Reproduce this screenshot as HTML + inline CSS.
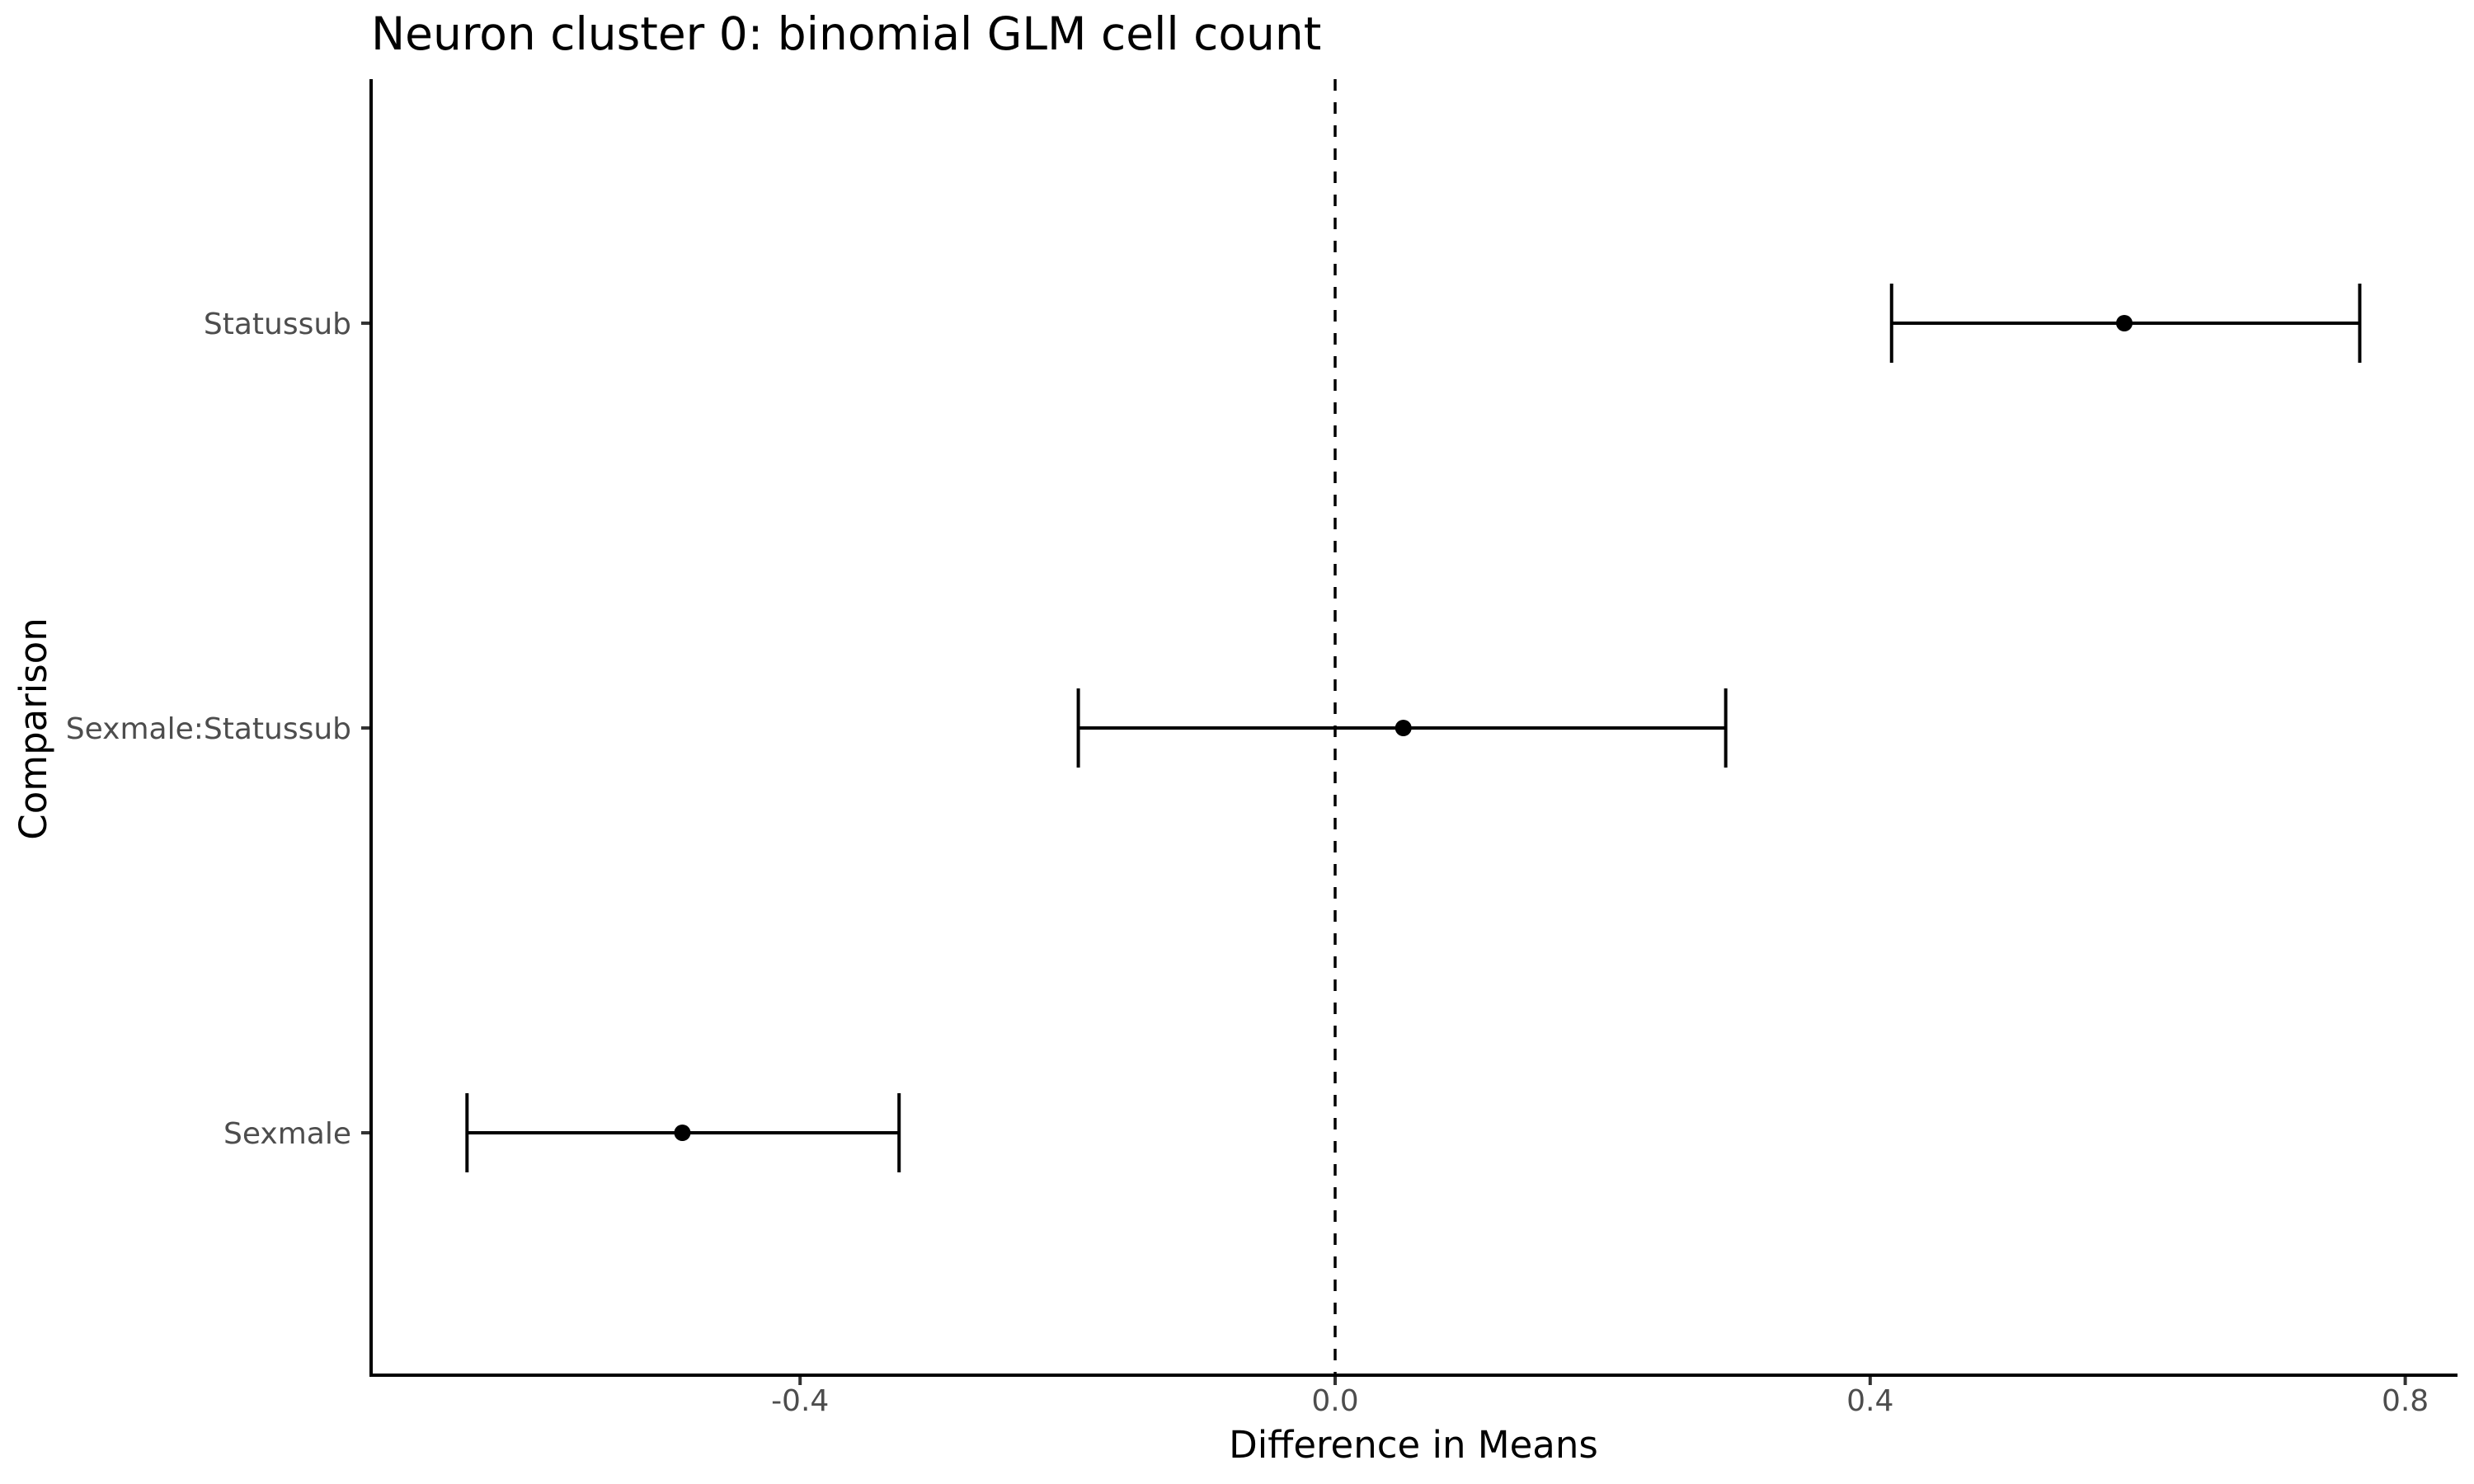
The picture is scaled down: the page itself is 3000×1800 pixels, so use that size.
<!DOCTYPE html>
<html><head><meta charset="utf-8">
<style>
html,body{margin:0;padding:0;background:#fff;}
svg{display:block;font-family:"DejaVu Sans","Liberation Sans",sans-serif;}
</style></head>
<body>
<svg id="chart" width="3000" height="1800" viewBox="0 0 3000 1800">
<text x="450" y="60" font-size="55" fill="#000">Neuron cluster 0: binomial GLM cell count</text>
<g id="plot"></g>
<text x="1714" y="1768" font-size="45" text-anchor="middle" fill="#000">Difference in Means</text>
<text transform="translate(56,884) rotate(-90)" font-size="45" text-anchor="middle" fill="#000">Comparison</text>
</svg>
<script>
const categories = ["Sexmale", "Sexmale:Statussub", "Statussub"];
const means = [-0.488, 0.051, 0.590];
const lows = [-0.649, -0.192, 0.416];
const highs = [-0.326, 0.292, 0.766];
const xTicks = [-0.4, 0.0, 0.4, 0.8];
const xTickLabels = ["-0.4", "0.0", "0.4", "0.8"];

const NS = "http://www.w3.org/2000/svg";
const plot = document.getElementById('plot');
const L = 450, R = 2980, T = 96, B = 1668;
function xs(v){ return 1619 + v * 1622; }
function ys(i){ return 1374 - i * 491; }
function mk(tag, attrs){ const e = document.createElementNS(NS, tag); for (const k in attrs) e.setAttribute(k, attrs[k]); plot.appendChild(e); return e; }

let e;
e = mk('line', {x1: xs(0), x2: xs(0), y1: T, y2: B, stroke: '#000', 'stroke-width': 3.5, 'stroke-dasharray': '14,14'});



categories.forEach((c, i) => {
  const y = ys(i);
  const g = document.createElementNS(NS, 'g');
  
  
  plot.appendChild(g);
  const add = (tag, a) => { const el = document.createElementNS(NS, tag); for (const k in a) el.setAttribute(k, a[k]); g.appendChild(el); return el; };
  add('line', {x1: xs(lows[i]), x2: xs(highs[i]), y1: y, y2: y, stroke: '#000', 'stroke-width': 4});
  add('line', {x1: xs(lows[i]), x2: xs(lows[i]), y1: y - 48, y2: y + 48, stroke: '#000', 'stroke-width': 4});
  add('line', {x1: xs(highs[i]), x2: xs(highs[i]), y1: y - 48, y2: y + 48, stroke: '#000', 'stroke-width': 4});
  const p = add('circle', {cx: xs(means[i]), cy: y, r: 10, fill: '#000'});
  
  
  const t = mk('line', {x1: 438, x2: L, y1: y, y2: y, stroke: '#333', 'stroke-width': 4});
  
  
  const lb = mk('text', {x: 426, y: y + 13, 'font-size': 36, 'text-anchor': 'end', fill: '#4d4d4d'});
  lb.textContent = c;
  
  
});

xTicks.forEach((v, i) => {
  const t = mk('line', {x1: xs(v), x2: xs(v), y1: B, y2: B + 12, stroke: '#333', 'stroke-width': 4});
  
  
  const lb = mk('text', {x: xs(v), y: 1711, 'font-size': 36, 'text-anchor': 'middle', fill: '#4d4d4d'});
  lb.textContent = xTickLabels[i];
  
  
});

e = mk('line', {x1: L, x2: L, y1: T, y2: B + 2, stroke: '#000', 'stroke-width': 4});


e = mk('line', {x1: L - 2, x2: R, y1: B, y2: B, stroke: '#000', 'stroke-width': 4});


</script>
</body></html>
